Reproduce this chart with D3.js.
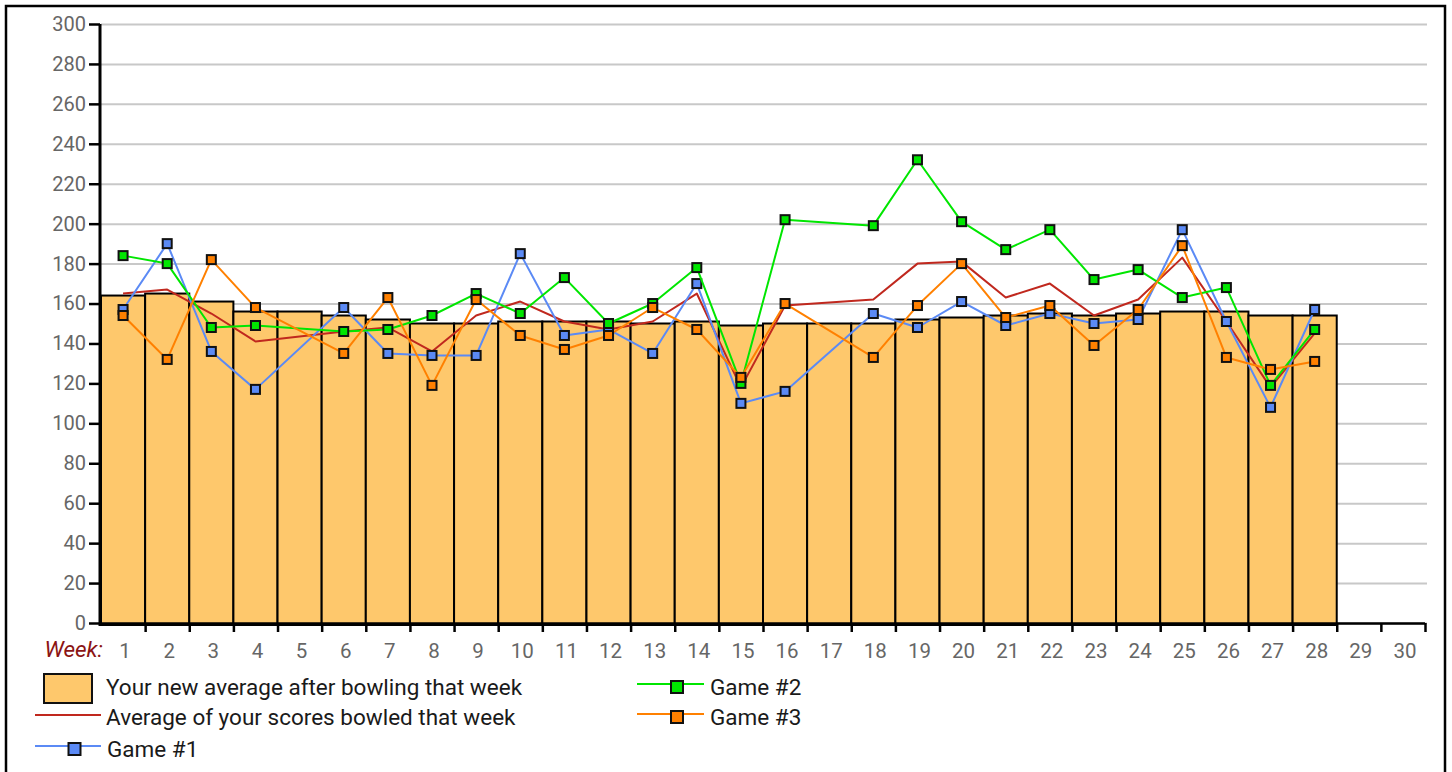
<!DOCTYPE html>
<html>
<head>
<meta charset="utf-8">
<script src="https://cdn.jsdelivr.net/npm/d3@7"></script>
<style>
  body { margin: 0; background: #fff; }
  svg text { font-family: Roboto, "Liberation Sans", sans-serif; }
</style>
</head>
<body>
<script>
'use strict';

// weeks shown on the axis
const weeks = d3.range(1, 31);

// new average after each week (bars)
const newAverage = [164, 165, 161, 156, 156, 154, 152, 150, 150, 151, 151, 151, 150, 151,
  149, 150, 150, 150, 152, 153, 154, 155, 154, 155, 156, 156, 154, 154];

// average of scores bowled that week (null = no games)
const weekAverage = [165, 167, 155, 141, null, 146, 148, 136, 154, 161, 151, 147, 151, 165,
  118, 159, null, 162, 180, 181, 163, 170, 154, 162, 183, 151, 118, 145];

const game1 = [157, 190, 136, 117, null, 158, 135, 134, 134, 185, 144, 147, 135, 170,
  110, 116, null, 155, 148, 161, 149, 155, 150, 152, 197, 151, 108, 157];

const game2 = [184, 180, 148, 149, null, 146, 147, 154, 165, 155, 173, 150, 160, 178,
  120, 202, null, 199, 232, 201, 187, 197, 172, 177, 163, 168, 119, 147];

const game3 = [154, 132, 182, 158, null, 135, 163, 119, 162, 144, 137, 144, 158, 147,
  123, 160, null, 133, 159, 180, 153, 159, 139, 157, 189, 133, 127, 131];

const yTicks = d3.range(0, 301, 20);

const barColor = '#fec86c';
const series = [
  { name: 'Game #1', values: game1, color: '#5b8af5' },
  { name: 'Game #2', values: game2, color: '#00e600' },
  { name: 'Game #3', values: game3, color: '#ff8000' }
];

const svg = d3.select('body').append('svg')
  .attr('width', 1452)
  .attr('height', 772);

// outer frame
svg.append('rect')
  .attr('x', 6).attr('y', 6)
  .attr('width', 1439).attr('height', 820)
  .attr('fill', 'none')
  .attr('stroke', '#000')
  .attr('stroke-width', 2.5);

let x = d3.scaleBand().domain(weeks).range([101, 1425]).padding(0);
let xEdge = d3.scaleLinear().domain([0.5, 30.5]).range([101, 1425]);
let y = d3.scaleLinear().domain([0, 300]).range([623, 24]);

// gridlines
svg.append('g')
  .selectAll('line')
  .data(yTicks)
  .enter()
  .append('line')
  .attr('x1', 101).attr('x2', 1427)
  .attr('y1', (d) => y(d) + 0.5).attr('y2', (d) => y(d) + 0.5)
  .attr('stroke', '#c8c8c8')
  .attr('stroke-width', 2);

// bars
svg.append('g')
  .selectAll('rect')
  .data(newAverage)
  .enter()
  .append('rect')
  .attr('x', (d, i) => x(i + 1))
  .attr('y', (d) => y(d))
  .attr('width', x.bandwidth())
  .attr('height', (d) => y(0) - y(d) + 2)
  .attr('fill', barColor)
  .attr('stroke', '#000')
  .attr('stroke-width', 2);

// y axis
let yAxis = svg.append('g')
  .attr('transform', 'translate(100,0)')
  .call(d3.axisLeft(y).tickValues(yTicks).tickSize(11).tickPadding(3));
yAxis.select('.domain').attr('stroke-width', 3).attr('d', 'M0,' + y(300) + 'V' + (y(0) + 3));
yAxis.selectAll('.tick line').attr('stroke-width', 2.5);
yAxis.selectAll('text')
  .attr('fill', '#666')
  .style('font-size', '20px');

// x axis: tick marks at week boundaries
let xTicks = svg.append('g')
  .attr('transform', 'translate(0,' + y(0) + ')')
  .call(d3.axisBottom(xEdge).tickValues(d3.range(1.5, 31, 1)).tickFormat('').tickSize(9));
xTicks.select('.domain').attr('stroke-width', 2.5).attr('d', 'M101,0.5H1425');
xTicks.selectAll('.tick line').attr('stroke-width', 2.5);

// x axis labels
let xLabels = svg.append('g')
  .attr('transform', 'translate(0,' + y(0) + ')')
  .call(d3.axisBottom(x).tickSize(0).tickPadding(20));
xLabels.select('.domain').remove();
xLabels.selectAll('text')
  .attr('dx', 2)
  .attr('fill', '#666')
  .style('font-size', '20.5px');

svg.append('text')
  .attr('x', 103)
  .attr('y', 657)
  .attr('text-anchor', 'end')
  .attr('fill', '#8b1414')
  .style('font-size', '22.5px')
  .style('font-style', 'italic')
  .text('Week:');

function plotLine(values, color) {
  let pts = values.map((v, i) => ({ v: v, i: i })).filter((d) => d.v !== null);
  svg.append('path')
    .datum(pts)
    .attr('fill', 'none')
    .attr('stroke', color)
    .attr('stroke-width', 2)
    .attr('stroke-linejoin', 'round')
    .attr('d', d3.line()
      .x((d) => x(d.i + 1) + x.bandwidth() / 2)
      .y((d) => y(d.v)));
  return pts;
}

plotLine(weekAverage, '#c0281e');

series.forEach((s) => {
  let pts = plotLine(s.values, s.color);
  svg.append('g')
    .selectAll('rect')
    .data(pts)
    .enter()
    .append('rect')
    .attr('x', (d) => x(d.i + 1) + x.bandwidth() / 2 - 4.5)
    .attr('y', (d) => y(d.v) - 4.5)
    .attr('width', 9)
    .attr('height', 9)
    .attr('fill', s.color)
    .attr('stroke', '#111')
    .attr('stroke-width', 2);
});

// legend
let legend = svg.append('g');
let legendFont = '22.5px';

function legendText(tx, ty, label) {
  legend.append('text')
    .attr('x', tx)
    .attr('y', ty)
    .attr('fill', '#1a1a1a')
    .style('font-size', legendFont)
    .text(label);
}

legend.append('rect')
  .attr('x', 44).attr('y', 674)
  .attr('width', 48).attr('height', 29)
  .attr('fill', barColor)
  .attr('stroke', '#111')
  .attr('stroke-width', 2);
legendText(106, 695, 'Your new average after bowling that week');

legend.append('line')
  .attr('x1', 35).attr('x2', 101)
  .attr('y1', 715).attr('y2', 715)
  .attr('stroke', '#c0281e').attr('stroke-width', 2);
legendText(106, 725, 'Average of your scores bowled that week');

let legendItems = [
  { s: series[0], lx: 35, lx2: 101, mx: 74.5, ty: 757 },
  { s: series[1], lx: 637, lx2: 704, mx: 677, ty: 695 },
  { s: series[2], lx: 637, lx2: 704, mx: 677, ty: 725 }
];

legendItems.forEach((it) => {
  let ly = it.ty - 11;
  legend.append('line')
    .attr('x1', it.lx).attr('x2', it.lx2)
    .attr('y1', ly).attr('y2', ly)
    .attr('stroke', it.s.color).attr('stroke-width', 2);
  legend.append('rect')
    .attr('x', it.mx - 6).attr('y', ly + 3 - 6)
    .attr('width', 12).attr('height', 12)
    .attr('fill', it.s.color)
    .attr('stroke', '#111')
    .attr('stroke-width', 2);
  legendText(it.lx2 + 6, it.ty, it.s.name);
});
</script>
</body>
</html>
